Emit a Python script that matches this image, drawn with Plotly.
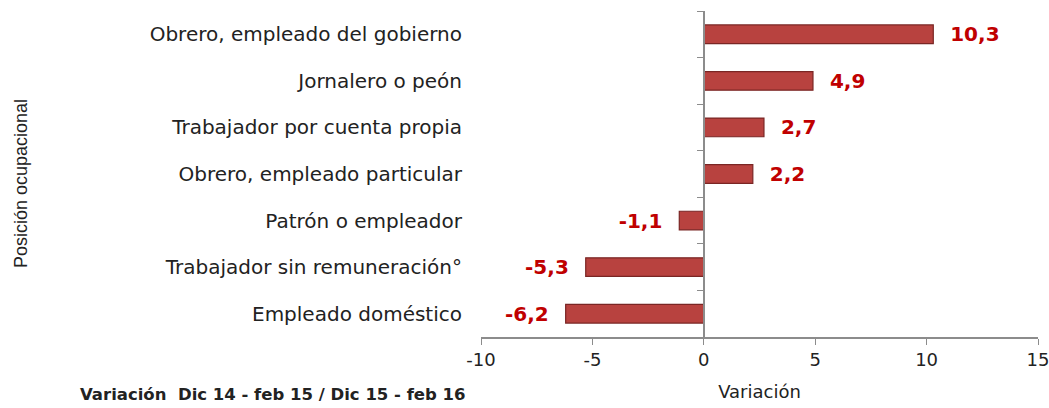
import plotly.graph_objects as go

categories = [
    "Obrero, empleado del gobierno",
    "Jornalero o peón",
    "Trabajador por cuenta propia",
    "Obrero, empleado particular",
    "Patrón o empleador",
    "Trabajador sin remuneración°",
    "Empleado doméstico",
]
values = [10.3, 4.9, 2.7, 2.2, -1.1, -5.3, -6.2]
x_ticks = [-10, -5, 0, 5, 10, 15]
x_tick_labels = ["-10", "-5", "0", "5", "10", "15"]

pad = "\u00a0\u00a0"
templates = [pad + "%{x:.1f}" if v >= 0 else "%{x:.1f}" + pad for v in values]

fig = go.Figure()
fig.add_trace(go.Bar(
    x=values, y=categories, orientation="h",
    marker=dict(color="#B8423F", line=dict(color="#7A2624", width=1.2)),
    texttemplate=templates, textposition="outside", constraintext="none",
    textfont=dict(family="DejaVu Sans", size=20, color="#C00000", weight="bold"),
    cliponaxis=False, showlegend=False,
))
# invisible trace on second y axis to draw the category axis line at x=0
fig.add_trace(go.Bar(x=[0]*len(categories), y=categories, orientation="h",
                     yaxis="y2", showlegend=False, hoverinfo="skip",
                     marker=dict(color="rgba(0,0,0,0)")))

fig.update_layout(
    width=1049, height=408,
    margin=dict(l=481, r=11, t=11, b=71),
    paper_bgcolor="white", plot_bgcolor="white",
    separators=",.",
    bargap=0.6,
    font=dict(family="DejaVu Sans", color="#222"),
    xaxis=dict(range=[-10, 15], tickvals=x_ticks, ticktext=x_tick_labels,
               showgrid=False, zeroline=False, automargin=False, ticklabeloverflow="allow",
               showline=True, linecolor="#8C8C8C", linewidth=1.5,
               ticks="outside", ticklen=6, tickcolor="#8C8C8C",
               tickfont=dict(size=18, color="#222"),
               title=dict(text="Variación", font=dict(size=18, color="#222"), standoff=16)),
    yaxis=dict(categoryorder="array", categoryarray=categories, autorange="reversed",
               showgrid=False, zeroline=False, showline=False, ticks="", automargin=False,
               tickfont=dict(size=20, color="#222"), ticklabelstandoff=18),
    yaxis2=dict(overlaying="y", anchor="free", position=0.4, side="left",
                categoryorder="array", categoryarray=categories, autorange="reversed",
                showgrid=False, zeroline=False, showline=True, linecolor="#8C8C8C",
                linewidth=1.5, ticks="outside", tickson="boundaries", ticklen=6,
                tickcolor="#8C8C8C", showticklabels=False, automargin=False),
    annotations=[
        dict(text="Posición ocupacional", xref="paper", yref="paper",
             x=-0.826, y=0.472, xanchor="center", yanchor="middle",
             textangle=-90, showarrow=False,
             font=dict(size=18, color="#222", family="Liberation Sans")),
        dict(text="<b>Variación  Dic 14 - feb 15 / Dic 15 - feb 16</b>", xref="paper", yref="paper",
             x=-0.724, y=-0.212, xanchor="left", yanchor="bottom", showarrow=False,
             font=dict(size=16.5, color="#222", family="DejaVu Sans")),
    ],
)
fig.write_html("out.html", config={"displayModeBar": False},
               post_script="document.body.style.margin='0';")
